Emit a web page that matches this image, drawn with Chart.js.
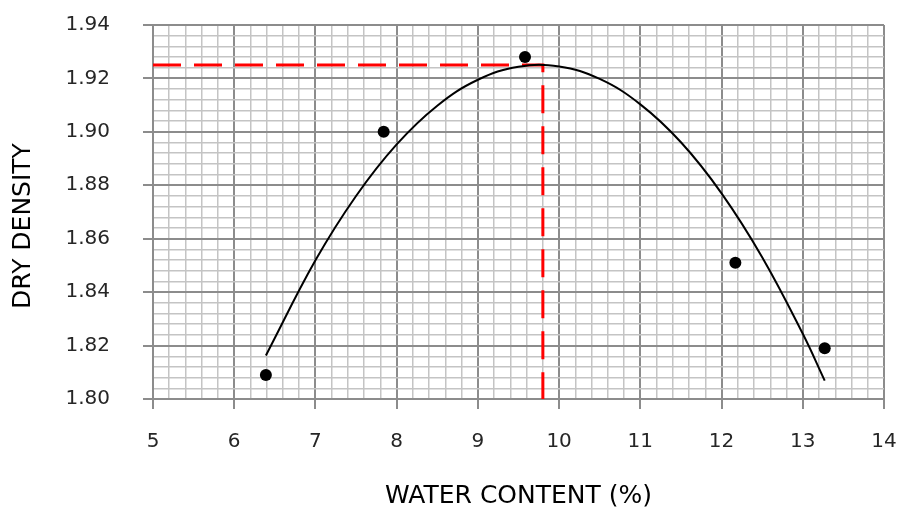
<!DOCTYPE html>
<html>
<head>
<meta charset="utf-8">
<script src="https://cdn.jsdelivr.net/npm/chart.js@4/dist/chart.umd.min.js"></script>
<style>
  html, body { margin: 0; padding: 0; background: #fff; }
  #wrap { width: 901px; height: 512px; }
</style>
</head>
<body>
<div id="wrap"><canvas id="compaction" width="901" height="512"></canvas></div>
<script>
// Test points (water content %, dry density)
var waterContent = [6.39, 7.84, 9.58, 12.17, 13.27];
var dryDensity = [1.809, 1.900, 1.928, 1.851, 1.819];

// Trend curve read along its length
var curveX = [6.39, 7.0, 7.5, 8.0, 8.5, 9.0, 9.5, 10.0, 10.5, 11.0, 11.5, 12.0, 12.5, 13.0, 13.27];
var curveY = [1.8163, 1.8519, 1.8760, 1.8953, 1.9098, 1.9195, 1.9244, 1.9245, 1.9198, 1.9103, 1.8961, 1.8770, 1.8531, 1.8244, 1.8069];

// Optimum moisture content / max dry density guide
var optWater = 9.8;
var maxDensity = 1.925;

var xTicks = [5, 6, 7, 8, 9, 10, 11, 12, 13, 14];
var yTicks = [1.80, 1.82, 1.84, 1.86, 1.88, 1.90, 1.92, 1.94];

var MAJOR = '#8c8c8c';
var MINOR = '#c4c4c4';
var FONT = "'DejaVu Sans', 'Noto Sans', sans-serif";

function isMajorX(v) {
    return Math.abs(v - Math.round(v)) < 1e-6;
}
function isMajorY(v) {
    return Math.abs(v * 50 - Math.round(v * 50)) < 1e-6;
}

function toPoints(xs, ys) {
    var pts = [];
    for (var i = 0; i < xs.length; i++) {
        pts.push({ x: xs[i], y: ys[i] });
    }
    return pts;
}

// Vertical axis title, drawn by hand so it can sit a bit below the plot centre
var yTitlePlugin = {
    id: 'yTitle',
    afterDraw: function(chart) {
        var c = chart.ctx;
        c.save();
        c.translate(23, 226);
        c.rotate(-Math.PI / 2);
        c.fillStyle = '#000';
        c.font = '25px ' + FONT;
        c.textAlign = 'center';
        c.textBaseline = 'middle';
        c.fillText('DRY DENSITY', 0, 0);
        c.restore();
    }
};

var ctx = document.getElementById('compaction').getContext('2d');

new Chart(ctx, {
    type: 'scatter',
    data: {
        datasets: [
            {
                label: 'points',
                data: toPoints(waterContent, dryDensity),
                pointRadius: 6,
                pointBackgroundColor: '#000',
                pointBorderWidth: 0,
                showLine: false,
                order: 0
            },
            {
                label: 'curve',
                data: toPoints(curveX, curveY),
                showLine: true,
                borderColor: '#000',
                borderWidth: 2,
                tension: 0.4,
                pointRadius: 0,
                order: 1
            },
            {
                label: 'guide',
                data: [
                    { x: xTicks[0], y: maxDensity },
                    { x: optWater, y: maxDensity },
                    { x: optWater, y: yTicks[0] }
                ],
                showLine: true,
                borderColor: '#ff0000',
                borderWidth: 3,
                borderDash: [28, 13],
                tension: 0,
                pointRadius: 0,
                order: 2
            }
        ]
    },
    plugins: [yTitlePlugin],
    options: {
        responsive: false,
        animation: false,
        devicePixelRatio: 1,
        layout: { padding: { left: 0, right: 17, top: 25, bottom: 0 } },
        plugins: {
            legend: { display: false },
            tooltip: { enabled: false }
        },
        scales: {
            x: {
                type: 'linear',
                min: xTicks[0],
                max: xTicks[xTicks.length - 1],
                afterFit: function(scale) {
                    scale.height = 113;
                    scale.paddingLeft = 0;
                    scale.paddingRight = 0;
                },
                border: { color: MAJOR, width: 2 },
                grid: {
                    color: function(c) { return isMajorX(c.tick.value) ? MAJOR : MINOR; },
                    lineWidth: function(c) { return isMajorX(c.tick.value) ? 2 : 1.5; },
                    tickColor: function(c) { return isMajorX(c.tick.value) ? MAJOR : 'rgba(0,0,0,0)'; },
                    tickLength: 10,
                    tickWidth: 2
                },
                ticks: {
                    stepSize: 0.2,
                    maxTicksLimit: 200,
                    autoSkip: false,
                    maxRotation: 0,
                    padding: 21,
                    color: '#262626',
                    font: { family: FONT, size: 20 },
                    callback: function(v) { return isMajorX(v) ? String(Math.round(v)) : ''; }
                },
                title: {
                    display: true,
                    text: 'WATER CONTENT (%)',
                    color: '#000',
                    font: { family: FONT, size: 25 },
                    padding: { top: 0, bottom: 1 }
                }
            },
            y: {
                type: 'linear',
                min: yTicks[0],
                max: yTicks[yTicks.length - 1],
                afterFit: function(scale) {
                    scale.width = 153;
                    scale.paddingTop = 0;
                    scale.paddingBottom = 0;
                },
                border: { color: MAJOR, width: 2 },
                grid: {
                    color: function(c) { return isMajorY(c.tick.value) ? MAJOR : MINOR; },
                    lineWidth: function(c) { return isMajorY(c.tick.value) ? 2 : 1.5; },
                    tickColor: function(c) { return isMajorY(c.tick.value) ? MAJOR : 'rgba(0,0,0,0)'; },
                    tickLength: 10,
                    tickWidth: 2
                },
                ticks: {
                    stepSize: 0.004,
                    maxTicksLimit: 200,
                    autoSkip: false,
                    padding: 33,
                    color: '#262626',
                    font: { family: FONT, size: 20 },
                    callback: function(v) { return isMajorY(v) ? v.toFixed(2) : ''; }
                },
                title: { display: false }
            }
        }
    }
});
</script>
</body>
</html>
